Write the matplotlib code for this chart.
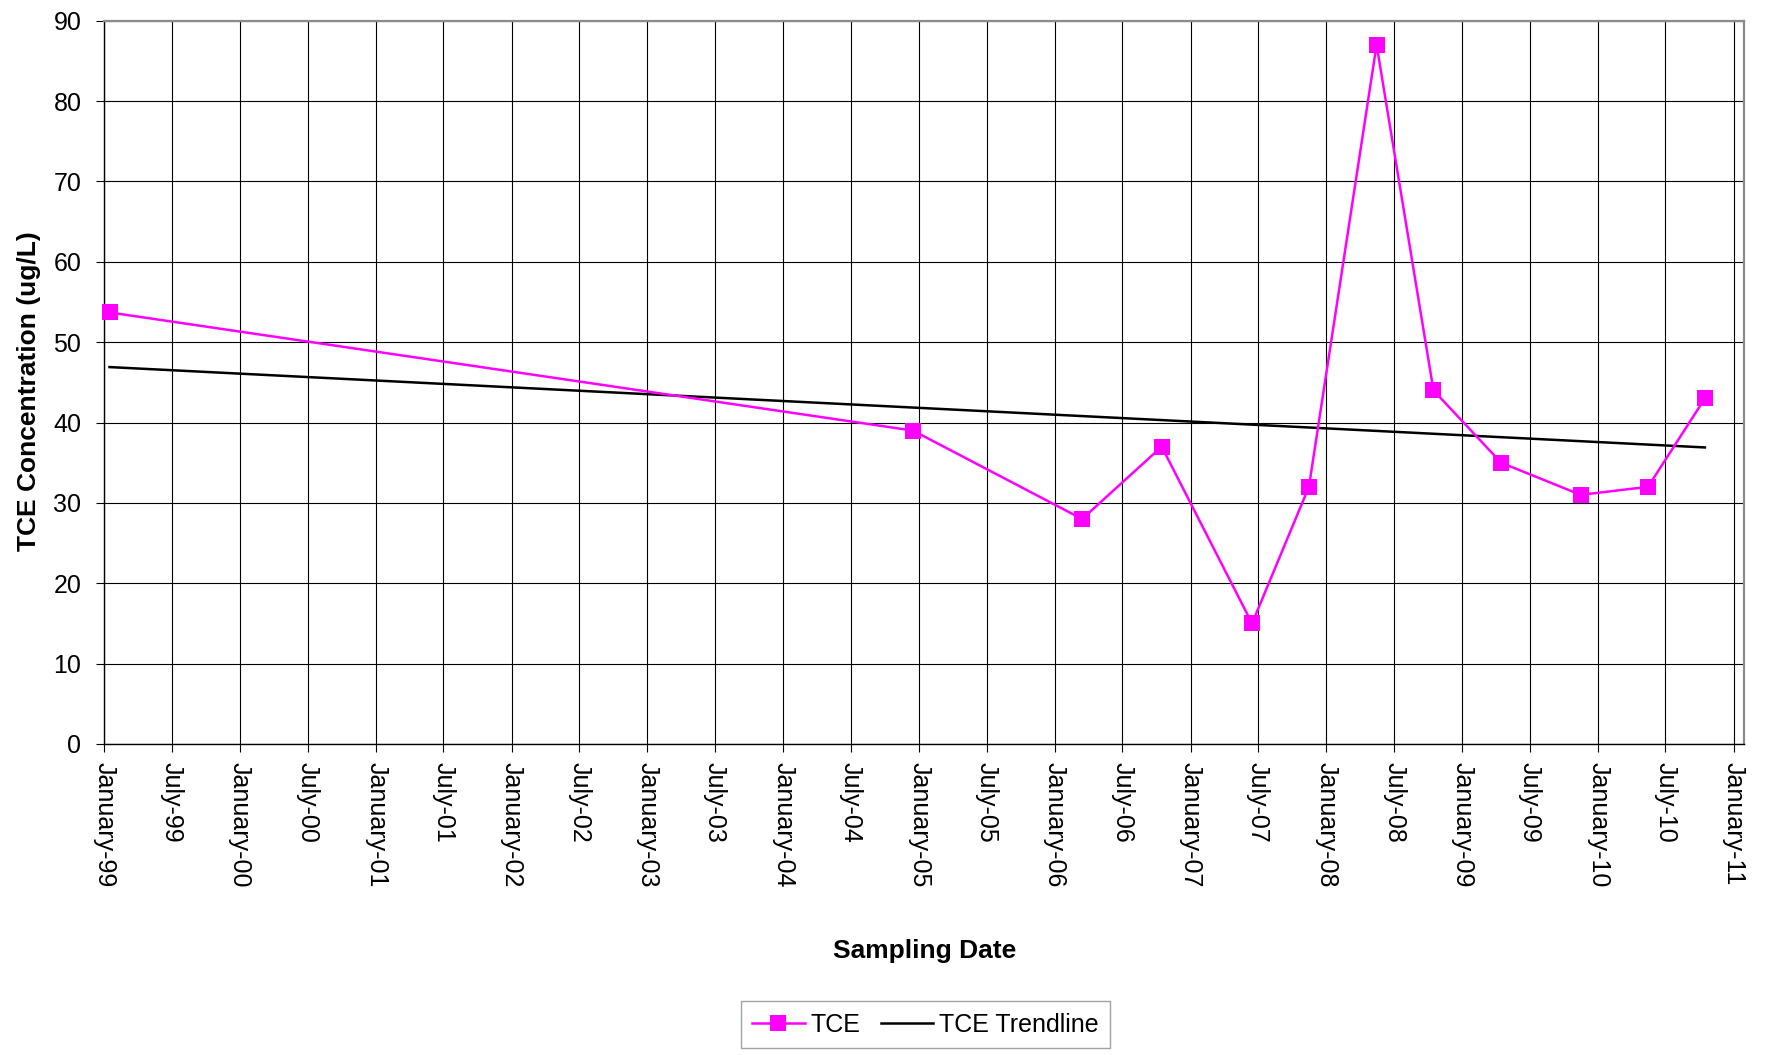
import datetime as dt
import matplotlib
matplotlib.use("Agg")
import matplotlib.pyplot as plt
import matplotlib.dates as mdates

plt.rcParams['font.family'] = ['Liberation Sans', 'DejaVu Sans']

# ---- data ----
sample_dates = ["1999-01-15", "2004-12-15", "2006-03-15", "2006-10-15", "2007-06-15",
                "2007-11-15", "2008-05-15", "2008-10-15", "2009-04-15", "2009-11-15",
                "2010-05-15", "2010-10-15"]
tce_values = [53.7, 39, 28, 37, 15, 32, 87, 44, 35, 31, 32, 43]

trend_dates = ["1999-01-15", "2010-10-15"]
trend_values = [46.9, 36.9]

tick_dates = ["1999-01-01", "1999-07-01", "2000-01-01", "2000-07-01", "2001-01-01",
              "2001-07-01", "2002-01-01", "2002-07-01", "2003-01-01", "2003-07-01",
              "2004-01-01", "2004-07-01", "2005-01-01", "2005-07-01", "2006-01-01",
              "2006-07-01", "2007-01-01", "2007-07-01", "2008-01-01", "2008-07-01",
              "2009-01-01", "2009-07-01", "2010-01-01", "2010-07-01", "2011-01-01"]
tick_labels = ["January-99", "July-99", "January-00", "July-00", "January-01",
               "July-01", "January-02", "July-02", "January-03", "July-03",
               "January-04", "July-04", "January-05", "July-05", "January-06",
               "July-06", "January-07", "July-07", "January-08", "July-08",
               "January-09", "July-09", "January-10", "July-10", "January-11"]
y_ticks = [0, 10, 20, 30, 40, 50, 60, 70, 80, 90]

x_range = ["1999-01-01", "2011-01-29"]

def to_dt(s):
    return [dt.datetime.strptime(d, "%Y-%m-%d") for d in s]

fig = plt.figure(figsize=(17.67, 10.55), dpi=100)
ax = fig.add_axes([0.05903, 0.29479, 0.92812, 0.68559])

ax.plot(to_dt(sample_dates), tce_values, color='#FF00FF', lw=1.8, marker='s',
        markersize=11.5, markeredgewidth=0, label='TCE', zorder=4, clip_on=False)
ax.plot(to_dt(trend_dates), trend_values, color='black', lw=1.8,
        label='TCE Trendline', zorder=3)

ax.set_xlim(to_dt(x_range))
ax.set_ylim(0, 90)
ax.set_xticks(to_dt(tick_dates))
ax.set_xticklabels(tick_labels, rotation=-90, ha='center', va='top')
ax.set_yticks(y_ticks)

ax.grid(True, color='black', lw=0.8)
ax.set_axisbelow(True)

ax.tick_params(axis='both', direction='out', length=5.5, width=0.8, color='black',
               labelsize=18)
ax.tick_params(axis='y', pad=11)
ax.tick_params(axis='x', pad=7.5)

for side in ['top', 'right']:
    ax.spines[side].set_color('#8c8c8c')
    ax.spines[side].set_linewidth(1.6)
for side in ['left', 'bottom']:
    ax.spines[side].set_color('black')
    ax.spines[side].set_linewidth(1.0)

ax.set_xlabel('Sampling Date', fontsize=19, fontweight='bold')
ax.xaxis.set_label_coords(0.5, -0.2959)
ax.xaxis.label.set_va('baseline')
ax.set_ylabel('TCE Concentration (ug/L)', fontsize=19, fontweight='bold')
ax.yaxis.set_label_coords(-0.0462, 0.488)
ax.yaxis.label.set_va('center')

leg = fig.legend(loc='center', bbox_to_anchor=(925.5 / 1767, 1 - 1024.5 / 1055),
                 ncol=2, fontsize=18, frameon=True, fancybox=False,
                 edgecolor='#8c8c8c', handlelength=2.1, handletextpad=0.25,
                 columnspacing=0.8, borderpad=0.45, markerscale=1.0)
leg.get_frame().set_linewidth(1.0)

fig.savefig('out.png', dpi=100)
